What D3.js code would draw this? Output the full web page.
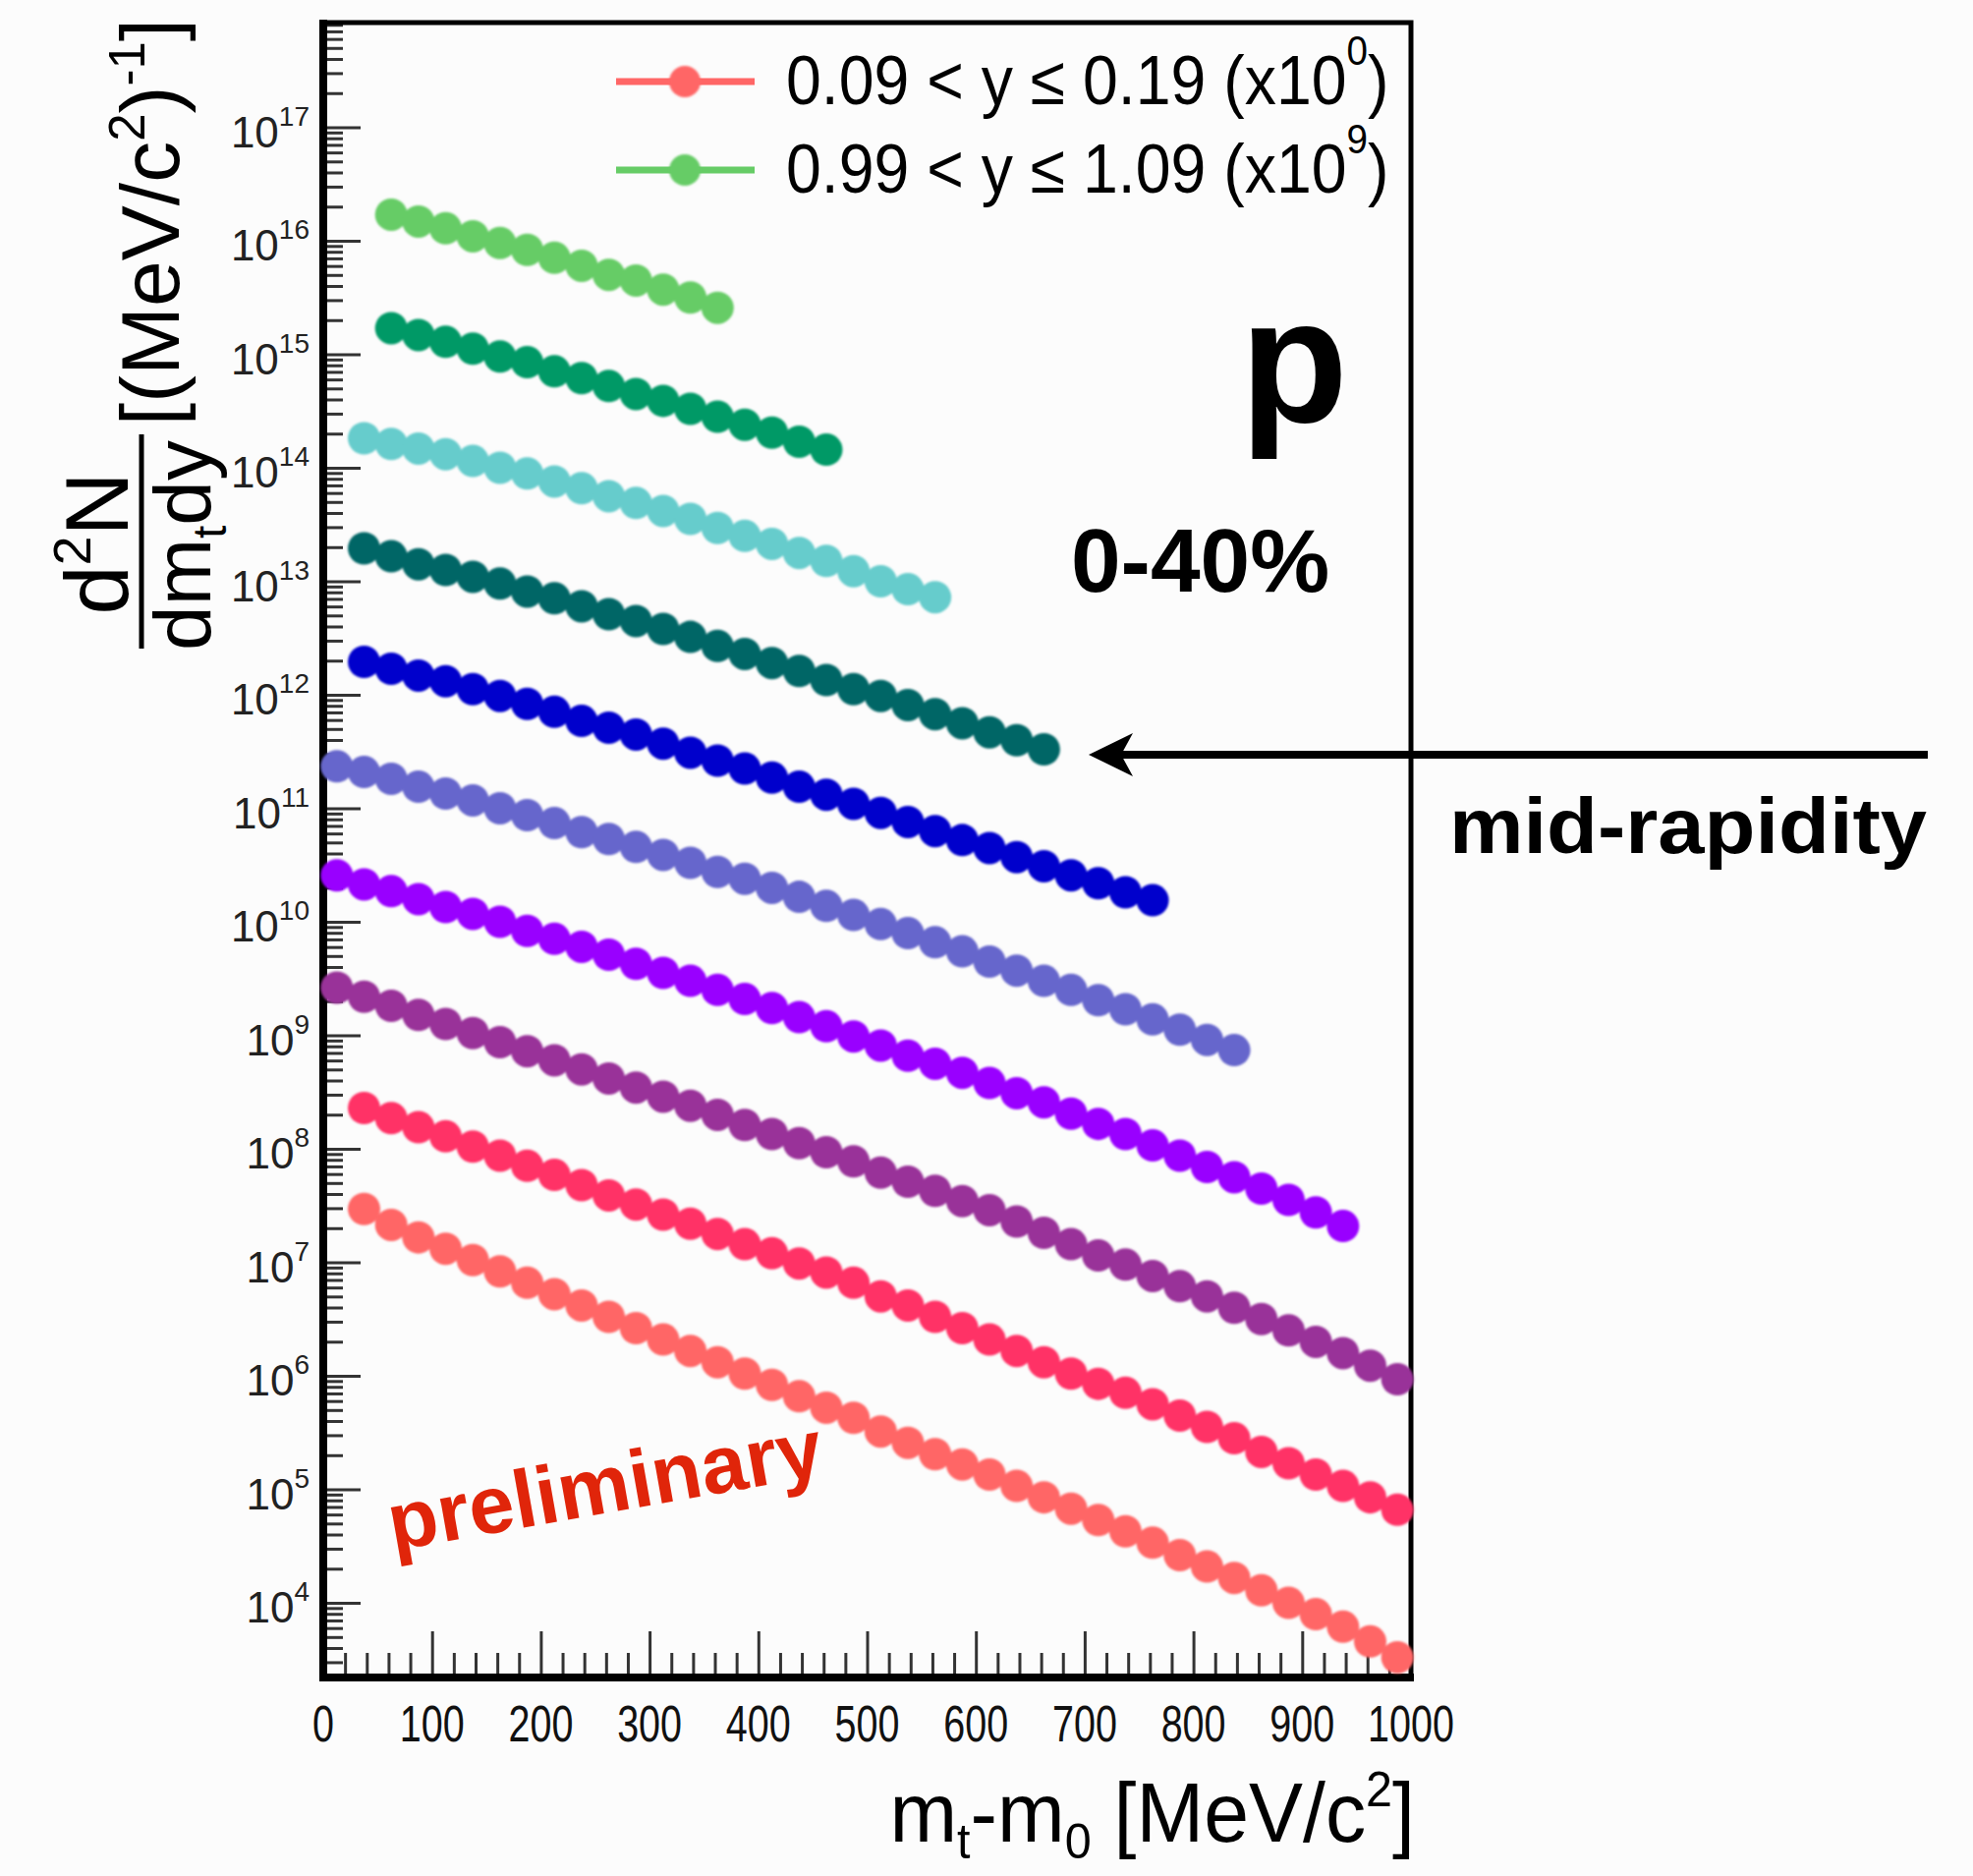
<!DOCTYPE html>
<html><head><meta charset="utf-8">
<script src="https://cdn.jsdelivr.net/npm/d3@7"></script>
<style>
html,body{margin:0;padding:0;background:#fcfcfc;}
svg{display:block;}
text{font-family:"Liberation Sans", Arial, Helvetica, sans-serif;}
</style></head><body>
<svg id="chart" width="2008" height="1909"></svg>
<script>
// transverse-mass bin centres (MeV/c^2)
const mtBins = [12.5, 37.5, 62.5, 87.5, 112.5, 137.5, 162.5, 187.5, 212.5, 237.5,
  262.5, 287.5, 312.5, 337.5, 362.5, 387.5, 412.5, 437.5, 462.5, 487.5,
  512.5, 537.5, 562.5, 587.5, 612.5, 637.5, 662.5, 687.5, 712.5, 737.5,
  762.5, 787.5, 812.5, 837.5, 862.5, 887.5, 912.5, 937.5, 962.5, 987.5];
const xTicks = [0, 100, 200, 300, 400, 500, 600, 700, 800, 900, 1000];
const yExponents = [4, 5, 6, 7, 8, 9, 10, 11, 12, 13, 14, 15, 16, 17];

const rapidityBins = ["0.09 < y \u2264 0.19", "0.19 < y \u2264 0.29", "0.29 < y \u2264 0.39",
  "0.39 < y \u2264 0.49", "0.49 < y \u2264 0.59", "0.59 < y \u2264 0.69", "0.69 < y \u2264 0.79",
  "0.79 < y \u2264 0.89", "0.89 < y \u2264 0.99", "0.99 < y \u2264 1.09"];
const scaleExp = [0, 1, 2, 3, 4, 5, 6, 7, 8, 9];
const firstBin = [1, 1, 0, 0, 0, 1, 1, 1, 2, 2];
const colors = ["#ff6666", "#ff3366", "#993399", "#9900ff", "#6666cc",
  "#0000cc", "#006666", "#66cccc", "#009966", "#66cc66"];

// log10 of unscaled d2N/(dmt dy) per rapidity bin
const log10_y009 = [7.47, 7.33, 7.22, 7.12, 7.02, 6.92, 6.82, 6.72, 6.62, 6.52, 6.42, 6.32, 6.22, 6.12, 6.02, 5.92, 5.82, 5.72, 5.63, 5.51, 5.41, 5.31, 5.22, 5.13, 5.03, 4.93, 4.83, 4.73, 4.63, 4.53, 4.42, 4.32, 4.22, 4.11, 4.00, 3.90, 3.79, 3.66, 3.52];
const log10_y019 = [7.36, 7.27, 7.19, 7.11, 7.02, 6.94, 6.85, 6.77, 6.68, 6.59, 6.51, 6.42, 6.34, 6.25, 6.16, 6.08, 5.99, 5.91, 5.82, 5.70, 5.62, 5.52, 5.42, 5.32, 5.22, 5.12, 5.02, 4.93, 4.85, 4.75, 4.65, 4.55, 4.45, 4.33, 4.23, 4.13, 4.03, 3.93, 3.82];
const log10_y029 = [7.42, 7.34, 7.26, 7.18, 7.10, 7.02, 6.94, 6.86, 6.78, 6.70, 6.62, 6.54, 6.46, 6.38, 6.30, 6.21, 6.13, 6.05, 5.97, 5.89, 5.79, 5.71, 5.63, 5.54, 5.46, 5.36, 5.26, 5.16, 5.06, 4.98, 4.88, 4.79, 4.70, 4.60, 4.50, 4.40, 4.30, 4.20, 4.09, 3.97];
const log10_y039 = [7.41, 7.33, 7.27, 7.20, 7.13, 7.07, 7.00, 6.92, 6.85, 6.78, 6.71, 6.63, 6.55, 6.48, 6.40, 6.32, 6.24, 6.16, 6.08, 5.99, 5.91, 5.82, 5.75, 5.67, 5.58, 5.49, 5.41, 5.31, 5.22, 5.13, 5.03, 4.94, 4.84, 4.75, 4.65, 4.55, 4.44, 4.32];
const log10_y049 = [7.37, 7.32, 7.26, 7.19, 7.13, 7.07, 7.00, 6.94, 6.87, 6.79, 6.73, 6.66, 6.59, 6.52, 6.44, 6.38, 6.30, 6.22, 6.14, 6.06, 5.98, 5.90, 5.82, 5.74, 5.65, 5.57, 5.48, 5.40, 5.31, 5.23, 5.14, 5.05, 4.96, 4.87];
const log10_y059 = [7.29, 7.23, 7.17, 7.12, 7.05, 6.99, 6.92, 6.85, 6.77, 6.71, 6.65, 6.57, 6.49, 6.42, 6.35, 6.27, 6.19, 6.12, 6.04, 5.96, 5.88, 5.80, 5.72, 5.65, 5.57, 5.49, 5.41, 5.34, 5.26, 5.19];
const log10_y069 = [7.29, 7.22, 7.15, 7.10, 7.04, 6.98, 6.91, 6.85, 6.78, 6.71, 6.65, 6.58, 6.51, 6.43, 6.36, 6.28, 6.21, 6.13, 6.05, 5.99, 5.91, 5.83, 5.75, 5.67, 5.60, 5.52];
const log10_y079 = [7.26, 7.21, 7.17, 7.12, 7.06, 7.00, 6.95, 6.88, 6.82, 6.75, 6.69, 6.62, 6.55, 6.47, 6.40, 6.33, 6.25, 6.18, 6.09, 6.00, 5.93, 5.86];
const log10_y089 = [7.23, 7.17, 7.11, 7.05, 6.98, 6.93, 6.85, 6.79, 6.72, 6.65, 6.59, 6.52, 6.45, 6.38, 6.31, 6.23, 6.16];
const log10_y099 = [7.23, 7.17, 7.11, 7.04, 6.98, 6.92, 6.85, 6.78, 6.70, 6.65, 6.57, 6.50, 6.41];
const seriesLogs = [log10_y009, log10_y019, log10_y029, log10_y039, log10_y049,
  log10_y059, log10_y069, log10_y079, log10_y089, log10_y099];

const svg = d3.select("#chart");
svg.append("rect").attr("width", 2008).attr("height", 1909).attr("fill", "#fcfcfc");

const x = d3.scaleLinear().domain([0, 1000]).range([329, 1436]);
const y = d3.scaleLog().domain([2.2e3, 8.36e17]).range([1707, 23]);

const defs = svg.append("defs");
defs.append("filter").attr("id", "soft").append("feGaussianBlur").attr("stdDeviation", 1.1);

// minor / major y ticks
const yMinor = [];
for (let e = 3; e <= 17; e++) for (let m = 2; m <= 9; m++) {
  const v = m * Math.pow(10, e);
  if (v > 2.2e3 && v < 8.36e17) yMinor.push(v);
}
const yMajor = yExponents.map(e => Math.pow(10, e));
function styleAxis(g) {
  g.select(".domain").remove();
  g.selectAll(".tick line").attr("stroke", "#333").attr("stroke-width", 3);
  g.selectAll(".tick text").remove();
}
svg.append("g").attr("transform", "translate(329,0)")
  .call(d3.axisRight(y).tickValues(yMinor).tickSize(20).tickFormat("")).call(styleAxis);
svg.append("g").attr("transform", "translate(329,0)")
  .call(d3.axisRight(y).tickValues(yMajor).tickSize(38).tickFormat("")).call(styleAxis);

const xMinor = d3.range(0, 1001, 20).filter(v => v % 100 !== 0);
svg.append("g").attr("transform", "translate(0,1707)")
  .call(d3.axisTop(x).tickValues(xMinor).tickSize(25).tickFormat("")).call(styleAxis);
svg.append("g").attr("transform", "translate(0,1707)")
  .call(d3.axisTop(x).tickValues(xTicks).tickSize(47).tickFormat("")).call(styleAxis);

// frame
svg.append("rect").attr("x", 329).attr("y", 23).attr("width", 1107).attr("height", 1684)
  .attr("fill", "none").attr("stroke", "#000").attr("stroke-width", 5);
svg.append("line").attr("x1", 329).attr("x2", 329).attr("y1", 20).attr("y2", 1710)
  .attr("stroke", "#000").attr("stroke-width", 8);
svg.append("line").attr("x1", 325).attr("x2", 1439).attr("y1", 1707).attr("y2", 1707)
  .attr("stroke", "#000").attr("stroke-width", 8);

// y tick labels
const yl = svg.append("g");
yExponents.forEach(e => {
  const t = yl.append("text")
    .attr("transform", `translate(315,${y(Math.pow(10, e)) + 20})`)
    .attr("text-anchor", "end").attr("fill", "#222");
  t.append("tspan").attr("font-size", 44).text("10");
  t.append("tspan").attr("font-size", 28).attr("dy", -22).text(e);
});
// x tick labels
xTicks.forEach(v => {
  svg.append("text")
    .attr("transform", `translate(${x(v)},1772) scale(0.76,1)`)
    .attr("text-anchor", "middle").attr("font-size", 52).attr("fill", "#111").text(v);
});

// data points
const dots = svg.append("g").attr("filter", "url(#soft)");
seriesLogs.forEach((arr, i) => {
  const pts = arr.map((v, j) => ({ mt: mtBins[firstBin[i] + j], val: Math.pow(10, v + scaleExp[i]) }));
  dots.append("g").selectAll("circle").data(pts).join("circle")
    .attr("cx", d => x(d.mt)).attr("cy", d => y(d.val)).attr("r", 16.5)
    .attr("fill", colors[i]);
});

// legend
const legendRows = [0, 9];
legendRows.forEach((bi, r) => {
  const cy = 83 + r * 90;
  const g = svg.append("g");
  g.append("line").attr("x1", 627).attr("x2", 768).attr("y1", cy).attr("y2", cy)
    .attr("stroke", colors[bi]).attr("stroke-width", 7);
  g.append("circle").attr("cx", 697).attr("cy", cy).attr("r", 16).attr("fill", colors[bi])
    .attr("filter", "url(#soft)");
  const t = g.append("text").attr("transform", `translate(800,${cy + 23}) scale(0.92,1)`)
    .attr("fill", "#000");
  t.append("tspan").attr("font-size", 70).text(rapidityBins[bi] + " (x10");
  t.append("tspan").attr("font-size", 42).attr("dy", -40).text(scaleExp[bi]);
  t.append("tspan").attr("font-size", 70).attr("dy", 40).text(")");
});

// y axis title
const yt1 = svg.append("text").attr("transform", "translate(182,226) rotate(-90)")
  .attr("text-anchor", "middle").attr("font-size", 84).attr("fill", "#000");
yt1.append("tspan").text("[(MeV/c");
yt1.append("tspan").attr("font-size", 51).attr("dy", -35).text("2");
yt1.append("tspan").attr("dy", 35).text(")");
yt1.append("tspan").attr("font-size", 51).attr("dy", -35).text("-1");
yt1.append("tspan").attr("dy", 35).text("]");
const ytn = svg.append("text").attr("transform", "translate(130,553) rotate(-90)")
  .attr("text-anchor", "middle").attr("font-size", 90).attr("fill", "#000");
ytn.append("tspan").text("d");
ytn.append("tspan").attr("font-size", 54).attr("dy", -38).text("2");
ytn.append("tspan").attr("dy", 38).text("N");
svg.append("line").attr("x1", 144).attr("x2", 144).attr("y1", 442).attr("y2", 660)
  .attr("stroke", "#000").attr("stroke-width", 5);
const ytd = svg.append("text").attr("transform", "translate(214,555) rotate(-90)")
  .attr("text-anchor", "middle").attr("font-size", 82).attr("fill", "#000");
ytd.append("tspan").text("dm");
ytd.append("tspan").attr("font-size", 48).attr("dy", 16).text("t");
ytd.append("tspan").attr("dy", -16).text("dy");

// x axis title
const xt = svg.append("text").attr("transform", "translate(1440,1874) scale(0.97,1)")
  .attr("text-anchor", "end").attr("font-size", 85).attr("fill", "#000");
xt.append("tspan").text("m");
xt.append("tspan").attr("font-size", 50).attr("dy", 17).text("t");
xt.append("tspan").attr("dy", -17).text("-m");
xt.append("tspan").attr("font-size", 50).attr("dy", 17).text("0");
xt.append("tspan").attr("dy", -17).text(" [MeV/c");
xt.append("tspan").attr("font-size", 50).attr("dy", -36).text("2");
xt.append("tspan").attr("dy", 36).text("]");

// annotations
svg.append("text").attr("x", 1262).attr("y", 430).attr("font-size", 180)
  .attr("font-weight", "bold").attr("fill", "#000").text("p");
svg.append("text").attr("x", 1090).attr("y", 602).attr("font-size", 91)
  .attr("font-weight", "bold").attr("fill", "#000").text("0-40%");
svg.append("text").attr("x", 1475).attr("y", 868).attr("font-size", 80)
  .attr("font-weight", "bold").attr("fill", "#000")
  .attr("textLength", 486).attr("lengthAdjust", "spacingAndGlyphs").text("mid-rapidity");
svg.append("text").attr("transform", "translate(400,1578) rotate(-10)")
  .attr("font-size", 83).attr("font-weight", "bold").attr("fill", "#e0250a").text("preliminary");

// arrow
svg.append("line").attr("x1", 1962).attr("x2", 1140).attr("y1", 768).attr("y2", 768)
  .attr("stroke", "#000").attr("stroke-width", 8);
svg.append("path").attr("d", "M1108,768 L1153,746 L1141,768 L1153,790 Z").attr("fill", "#000");
</script>
</body></html>
